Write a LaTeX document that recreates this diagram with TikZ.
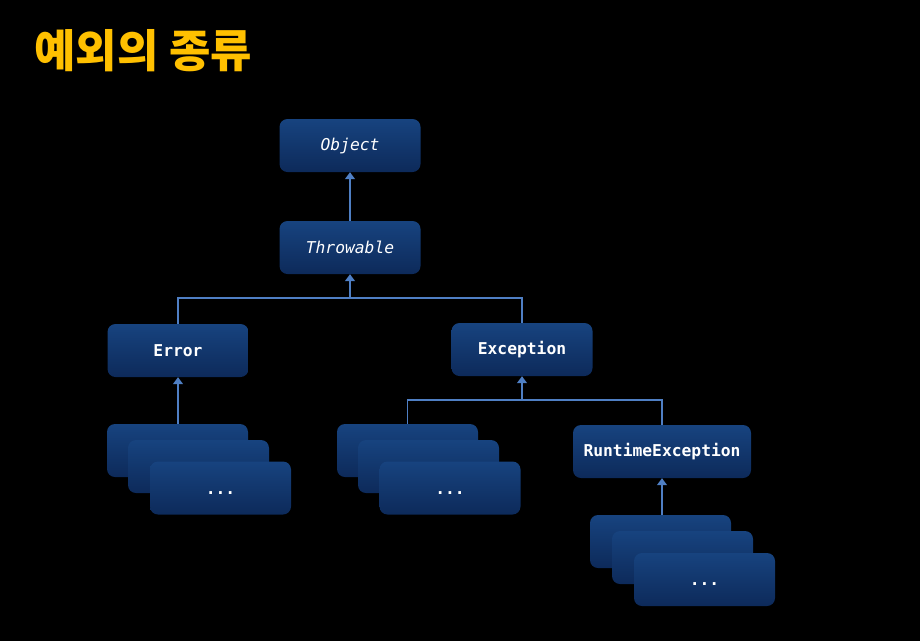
\documentclass[tikz,border=0pt]{standalone}
\usepackage{fontspec}
\newfontfamily\cjk{Noto Sans CJK KR}
\newfontfamily\monofont{DejaVu Sans Mono}
\usetikzlibrary{arrows.meta}
\definecolor{boxtop}{HTML}{17437F}
\definecolor{boxbot}{HTML}{0D2A5A}
\definecolor{linec}{HTML}{4F7FC4}
\definecolor{titlec}{HTML}{FFC000}
\tikzset{
  box/.style={rectangle, rounded corners=8pt, minimum width=141pt, minimum height=53pt,
    inner sep=0pt, top color=boxtop, bottom color=boxbot, draw=none,
    text=white, font=\monofont\fontsize{16.3}{19}\selectfont},
  ital/.style={font=\monofont\itshape\fontsize{16.3}{19}\selectfont},
  bld/.style={font=\monofont\bfseries\fontsize{16.3}{19}\selectfont},
  dotstext/.style={text=white, font=\monofont\bfseries\fontsize{16.3}{19}\selectfont},
  conn/.style={draw=linec, line width=1.2pt},
  arr/.style={conn, -{Triangle[width=10pt,length=7pt]}}
}
\begin{document}
\begin{tikzpicture}[x=1pt,y=-1pt]
\fill[black] (0,0) rectangle (920,641);
\useasboundingbox (0,0) rectangle (920,641);
\node[anchor=west, text=titlec, font=\cjk\bfseries\fontsize{45}{52}\selectfont] (title) at (31,51) {예외의 종류};

\node[box, ital] (obj) at (350,145.5) {Object};
\node[box, ital] (thr) at (350,247.5) {Throwable};
\node[box, bld] (err) at (178,350.5) {Error};
\node[box, bld] (exc) at (522,349.5) {Exception};
\node[box, bld, minimum width=178pt] (rte) at (662,451.5) {RuntimeException};

% Error stack
\node[box] (e1) at (177.5,450.5) {};
\node[box] (e2) at (198.5,466.5) {};
\node[box] (e3) at (220.5,488) {};
\node[dotstext] (e3t) at (220.5,493) {...};
% Exception stack
\node[box] (x1) at (407.5,450.5) {};
\node[box] (x2) at (428.5,466.5) {};
\node[box] (x3) at (450,488) {};
\node[dotstext] (x3t) at (450,493) {...};
% Runtime stack
\node[box] (r1) at (660.5,541.5) {};
\node[box] (r2) at (682.5,557.5) {};
\node[box] (r3) at (704.5,579.5) {};
\node[dotstext] (r3t) at (704.5,584) {...};

\coordinate (j1) at (350,298);
\coordinate (j2) at (522,400);

\draw[arr] (thr.north) -- (obj.south);
\draw[arr] (j1) -- (thr.south);
\draw[conn] (err.north) |- (j1) -| (exc.north);
\draw[arr] (e1.north -| err.south) -- (err.south);
\draw[arr] (j2) -- (exc.south);
\draw[conn] (x1.north) |- (j2) -| (rte.north);
\draw[arr] (r1.north -| rte.south) -- (rte.south);
\end{tikzpicture}
\end{document}
